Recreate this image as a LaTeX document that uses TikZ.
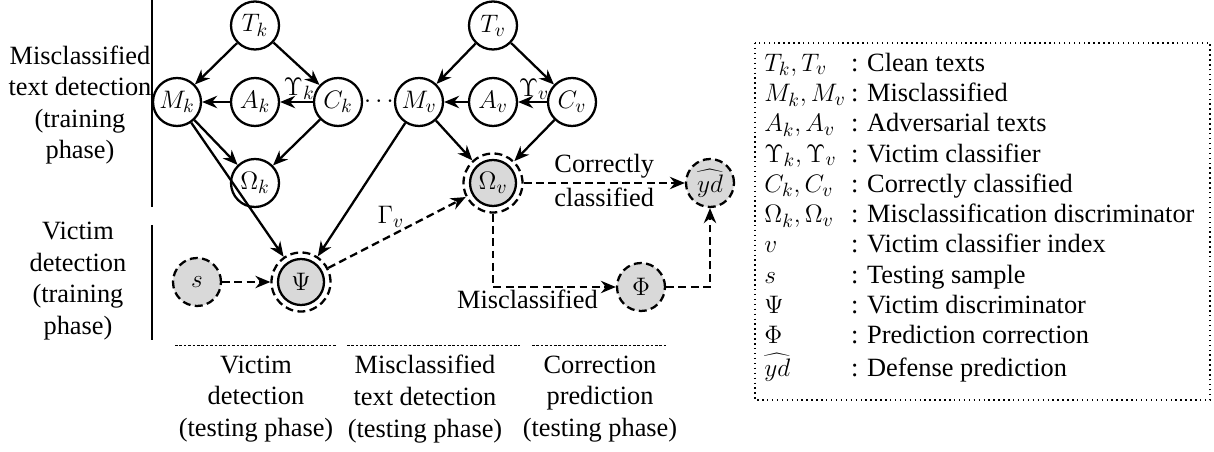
\documentclass[tikz,border=0pt]{standalone}
\usepackage{fontspec}
\setmainfont{Liberation Serif}
\usetikzlibrary{positioning, calc, arrows.meta}

\tikzset{
  var/.style={circle, draw, line width=1.3pt, minimum size=0.96cm, inner sep=0pt},
  obs/.style={var, dsh, fill=gray!30},
  dobs/.style={circle, draw, line width=1.3pt, dsh, minimum size=1.18cm, inner sep=0pt,
    path picture={\draw[solid, line width=1.3pt, fill=gray!30] (path picture bounding box.center) circle (0.46cm);}},
  dsh/.style={dash pattern=on 4.5pt off 2.5pt},
  link/.style={->, line width=1.3pt},
}

\begin{document}
\begin{tikzpicture}[on grid, font=\rmfamily\fontsize{15}{18}\selectfont, >={Stealth[length=8.5pt, width=7pt]}]
   \useasboundingbox (0,0) rectangle (24.28,-9.04);

   % training part k
   \node[var] (Tk) at (5.10,-0.51) {$T_k$};
   \node[var] (Ak) [below=1.53cm of Tk] {$A_k$};
   \node[var] (Mk) [left=1.56cm of Ak] {$M_k$};
   \node[var] (Ck) [right=1.66cm of Ak] {$C_k$};
   \node[var] (Omk) [below=1.62cm of Ak] {$\Omega_k$};
   \node (dots) [right=0.82cm of Ck] {$\cdots$};

   % training part v
   \node[var] (Tv) at (9.86,-0.51) {$T_v$};
   \node[var] (Av) [below=1.53cm of Tv] {$A_v$};
   \node[var] (Mv) [left=1.48cm of Av] {$M_v$};
   \node[var] (Cv) [right=1.58cm of Av] {$C_v$};
   \node[dobs] (Omv) [below=1.62cm of Av] {$\Omega_v$};
   \node[obs] (yd) [right=4.34cm of Omv] {$\widehat{yd}$};

   % testing
   \node[dobs] (Psi) at (6.02,-5.64) {$\Psi$};
   \node[obs] (s) [left=2.08cm of Psi] {$s$};
   \node[obs] (Phi) at (12.82,-5.74) {$\Phi$};

   \path[link]
    (Tk) edge (Mk)
    (Tk) edge (Ck)
    (Ck) edge node [above, pos=0.42, inner sep=0.5pt] {$\Upsilon_k$} (Ak)
    (Ak) edge (Mk)
    (Mk) edge (Omk)
    (Ck) edge (Omk)
    (Mk) edge (Psi)
    (Tv) edge (Mv)
    (Tv) edge (Cv)
    (Cv) edge node [above, pos=0.45, inner sep=0.5pt] {$\Upsilon_v$} (Av)
    (Av) edge (Mv)
    (Mv) edge (Omv)
    (Cv) edge (Omv)
    (Mv) edge (Psi);

   \path[link, dsh]
    (s) edge (Psi)
    (Psi) edge node [pos=0.56, above left, inner sep=0pt] {$\Gamma_v$} (Omv)
    (Omv) edge node [above, inner sep=2pt] {Correctly} node [below, inner sep=2pt] {classified} (yd);
   \draw[link, dsh] (Omv) |- node [pos=0.64, below, inner sep=1pt] {Misclassified} (Phi);
   \draw[link, dsh] (Phi) -| (yd);

   % phase labels
   \node[align=center] (trainmis) at (1.6,-2.1) {Misclassified\\text detection\\(training\\phase)};
   \node[align=center] (trainvic) at (1.56,-5.62) {Victim\\detection\\(training\\phase)};
   \node[align=center] (testvic) at (5.12,-7.98) {Victim\\detection\\(testing phase)};
   \node[align=center] (testmis) at (8.5,-7.98) {Misclassified\\text detection\\(testing phase)};
   \node[align=center] (testcor) at (12.0,-7.98) {Correction\\prediction\\(testing phase)};

   \draw[line width=0.6pt] (3.04,0) -- (3.04,-4.14);
   \draw[line width=0.6pt] (3.04,-4.5) -- (3.04,-6.8);
   \draw[line width=0.4pt, dash pattern=on 1.5pt off 1pt] (3.5,-6.9) -- (6.74,-6.9);
   \draw[line width=0.4pt, dash pattern=on 1.5pt off 1pt] (6.94,-6.9) -- (10.4,-6.9);
   \draw[line width=0.4pt, dash pattern=on 1.5pt off 1pt] (10.64,-6.9) -- (13.36,-6.9);

   % legend
   \draw[dotted, line width=0.8pt] (15.1,-0.86) rectangle (24.2,-8.0);
   \node[anchor=north west, inner sep=0pt, font=\rmfamily\fontsize{15}{17.25}\selectfont] (legend) at (15.28,-0.99) {%
     \begin{tabular}{@{}l@{\hspace{3pt}}l@{}}
      $T_k, T_v$ & : Clean texts\\
      $M_k, M_v$ & : Misclassified\\
      $A_k, A_v$ & : Adversarial texts\\
      $\Upsilon_k, \Upsilon_v$ & : Victim classifier\\
      $C_k, C_v$ & : Correctly classified\\
      $\Omega_k, \Omega_v$ & : Misclassification discriminator\\
      $v$ & : Victim classifier index\\
      $s$ & : Testing sample\\
      $\Psi$ & : Victim discriminator\\
      $\Phi$ & : Prediction correction\\
      $\widehat{yd}$ & : Defense prediction
     \end{tabular}};
\end{tikzpicture}
\end{document}
